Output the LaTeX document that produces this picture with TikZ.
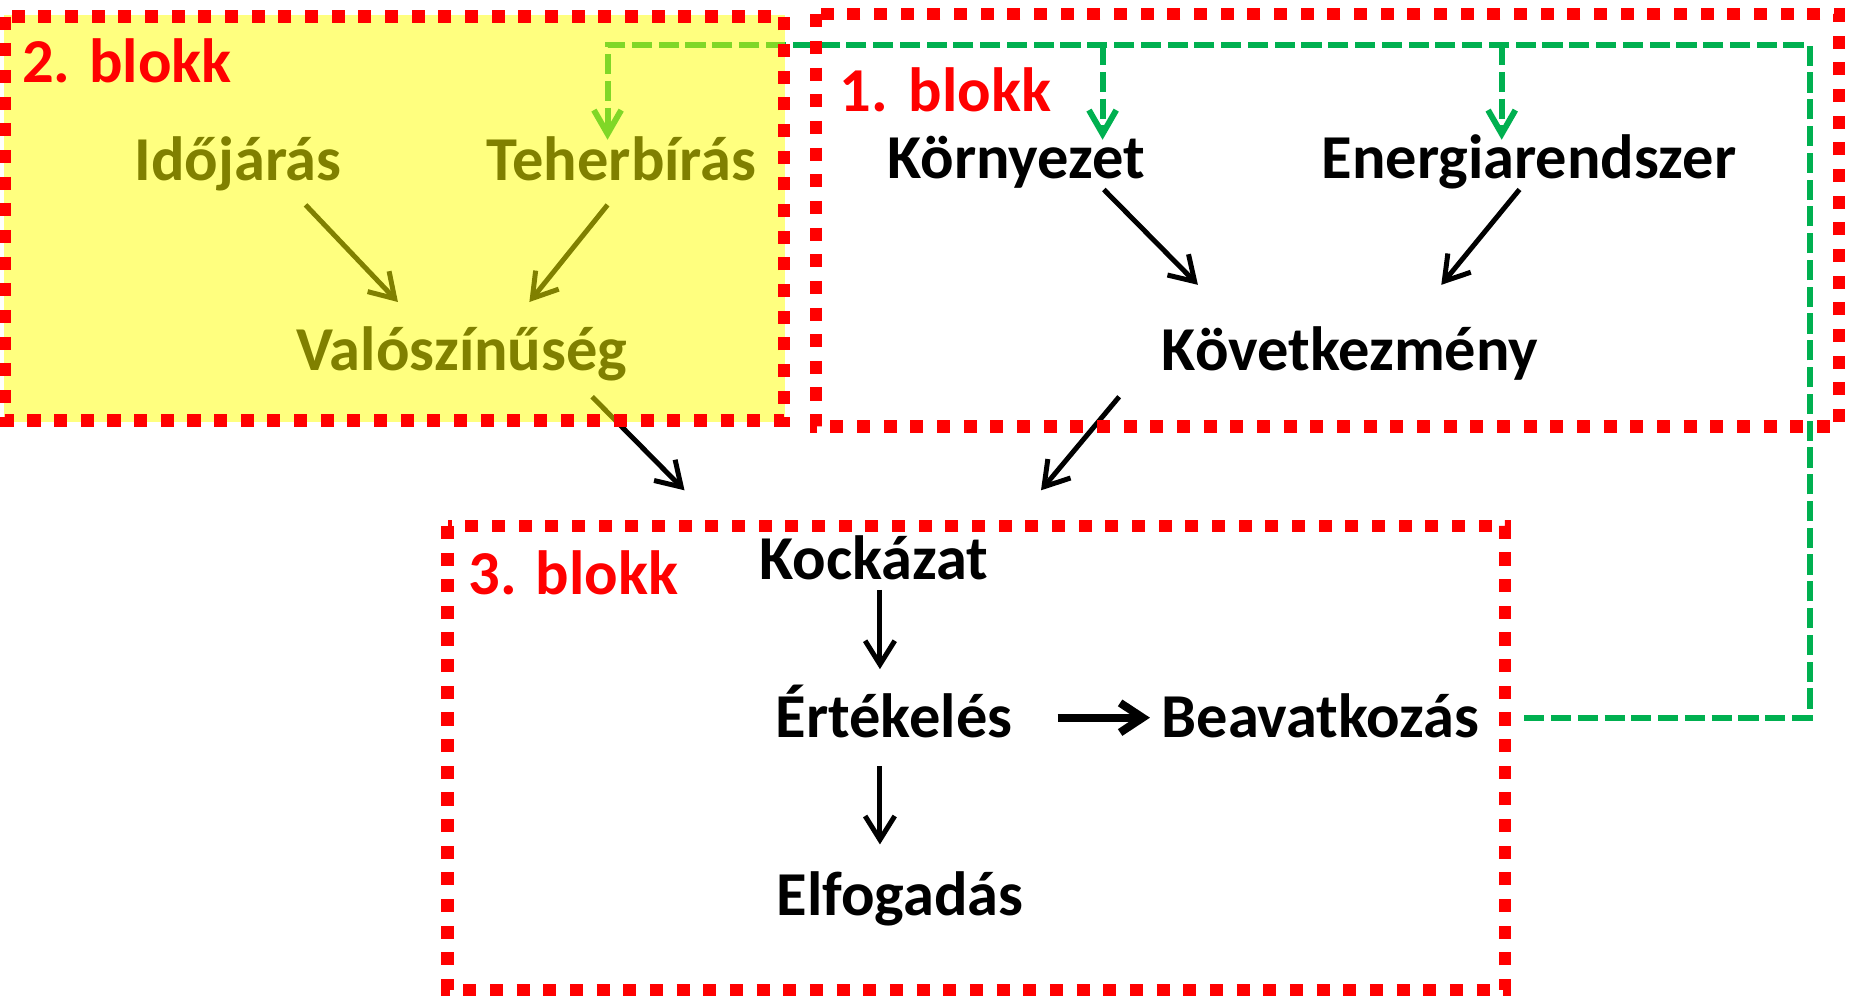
\documentclass[tikz,border=0pt]{standalone}
\usepackage{fontspec}
\setmainfont{Carlito}
\usetikzlibrary{arrows.meta,calc}
\definecolor{blokkred}{RGB}{255,0,0}
\definecolor{linkgreen}{RGB}{0,176,80}
\definecolor{hiyellow}{RGB}{255,255,0}
\begin{document}
\begin{tikzpicture}[x=0.01cm,y=-0.01cm,
  lbl/.style={font=\fontsize{15}{18}\selectfont\bfseries, inner sep=0pt, anchor=base},
  blk/.style={font=\fontsize{15}{18}\selectfont\bfseries, text=blokkred, inner sep=0pt, anchor=base west},
  flow/.style={line width=0.042cm, -{Straight Barb[length=0.2cm,width=0.25cm]}},
  flowthick/.style={line width=0.068cm, -{Straight Barb[length=0.19cm,width=0.25cm]}},
  blockframe/.style={draw=blokkred, line width=0.105cm, dash pattern=on 0.11cm off 0.115cm},
  link/.style={draw=linkgreen, line width=0.05cm, dash pattern=on 0.17cm off 0.056cm},
  linkarrow/.style={link, -{Straight Barb[length=0.2cm,width=0.23cm]}}
]
\useasboundingbox (0,0) rectangle (1568,842);

% --- terms -------------------------------------------------------------
\node[lbl] (ido) at (201,152) {Időjárás};
\node[lbl] (teh) at (525,152) {Teherbírás};
\node[lbl] (val) at (390,312.5) {Valószínűség};
\node[lbl] (kor) at (858,151) {Környezet};
\node[lbl] (ene) at (1291,151) {Energiarendszer};
\node[lbl] (kov) at (1140,312.5) {Következmény};
\node[lbl] (koc) at (738,489) {Kockázat};
\node[lbl] (ert) at (755,623) {Értékelés};
\node[lbl] (bea) at (1115,623) {Beavatkozás};
\node[lbl] (elf) at (760,772.6) {Elfogadás};

% --- causal arrows -------------------------------------------------------
\draw[flow] ($(ido.base)+(57,21)$) -- ($(val.base)+(-54,-57.5)$);
\draw[flow] ($(teh.base)+(-12,21)$) -- ($(val.base)+(57,-57.5)$);
\draw[flow] ($(kor.base)+(74,9)$) -- ($(kov.base)+(-128.5,-72)$);
\draw[flow] ($(ene.base)+(-8,9)$) -- ($(kov.base)+(77,-72)$);
\draw[flow] ($(val.base)+(110,22.5)$) -- ($(koc.base)+(-160,-75)$);
\draw[flow] ($(kov.base)+(-195,22.5)$) -- ($(koc.base)+(141,-75)$);
\draw[flow] ($(koc.base)+(5,9)$) -- ($(ert.base)+(-12,-58)$);
\draw[flow] ($(ert.base)+(-12,24)$) -- ($(elf.base)+(-17,-59.6)$);
\draw[flowthick] ($(ert.base)+(138,-17)$) -- ($(bea.base)+(-144,-17)$);

% --- feedback loop from the intervention -------------------------------
\coordinate (beaOut) at ($(bea.base)+(172,-17)$);
\coordinate (loopTop) at (1528,38);
\coordinate (tehIn) at ($(teh.base)+(-12,-34)$);
\coordinate (korIn) at ($(kor.base)+(73,-33)$);
\coordinate (eneIn) at ($(ene.base)+(-23,-33)$);
\draw[linkarrow] (beaOut) -| (loopTop) -| (tehIn);
\draw[linkarrow] (korIn |- loopTop) -- (korIn);
\draw[linkarrow] (eneIn |- loopTop) -- (eneIn);

% --- block 2 highlight ---------------------------------------------------
\fill[hiyellow, opacity=0.5] (3,13) rectangle (663,356);

% --- block frames ----------------------------------------------------------
\draw[blockframe] (4,14) rectangle (662,355);
\draw[blockframe] (689,12) rectangle (1553,360);
\draw[blockframe] (378,444) rectangle (1271,836);

\node[blk] (b2) at (18,70) {2. blokk};
\node[blk] (b1) at (708,94.3) {1.\hspace{0.34em}blokk};
\node[blk] (b3) at (395,502) {3. blokk};
\end{tikzpicture}
\end{document}
